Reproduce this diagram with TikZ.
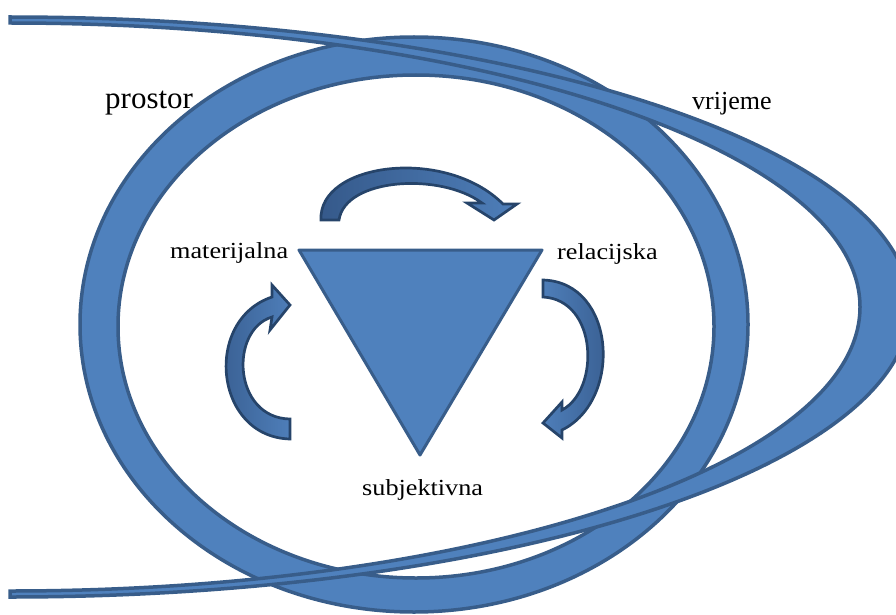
\documentclass[tikz,border=0pt]{standalone}
\usepackage{fontspec}
\setmainfont{Liberation Serif}
\newfontfamily\timesfont{Liberation Serif}
\newfontfamily\labfont[FakeStretch=1.14]{Liberation Serif}
\definecolor{fillblue}{HTML}{4F81BD}
\definecolor{edgeblue}{HTML}{385D8A}
\definecolor{arrowlight}{HTML}{4E7EB9}
\definecolor{arrowdark}{HTML}{35598A}
\definecolor{arrowedge}{HTML}{26446A}
\begin{document}
\begin{tikzpicture}[x=1pt,y=-1pt,
  band/.style={fill=fillblue, draw=edgeblue, line width=3.5pt, even odd rule},
  tri/.style={fill=fillblue, draw=edgeblue, line width=3pt, line join=round},
  curlarrow/.style={draw=arrowedge, line width=2.7pt, line join=miter},
  biglabel/.style={font=\timesfont\fontsize{31}{31}\selectfont, anchor=base west, inner sep=0pt},
  midlabel/.style={font=\timesfont\fontsize{26}{26}\selectfont, anchor=base west, inner sep=0pt},
  smalllabel/.style={font=\labfont\fontsize{23}{23}\selectfont, anchor=base west, inner sep=0pt}]
\useasboundingbox (0,0) rectangle (896,615);
\clip (0,0) rectangle (896,615);
% prostor ring
\path[band] (414,324.5) ellipse [x radius=334, y radius=287.5]
            (416,326.5) ellipse [x radius=298, y radius=251.5];
% vrijeme crescent
\path[band] (10,17) arc[start angle=-90, end angle=90, x radius=900, y radius=290]
  -- (10,591) arc[start angle=90, end angle=-90, x radius=850, y radius=284] -- cycle;
% triangle
\coordinate (tl) at (299,250);
\coordinate (tr) at (542,250);
\coordinate (tb) at (420,455);
\path[tri] (tl) -- (tr) -- (tb) -- cycle;
% curved arrows
\path[curlarrow, left color=arrowdark, right color=arrowlight]
  (321,220) .. controls (318,163) and (445,146) .. (503,204)
  -- (517,204) -- (494,220) -- (467,203) -- (482,203)
  .. controls (440,172) and (345,178) .. (339,220) -- cycle;
\path[curlarrow, left color=arrowdark, right color=arrowlight]
  (290,439) .. controls (214,437) and (203,320) .. (272,297)
  -- (272,285) -- (290,305) -- (270,330) -- (272,317)
  .. controls (229,330) and (233,418) .. (290,419) -- cycle;
\path[curlarrow, left color=arrowlight, right color=arrowdark]
  (543,280) .. controls (616,282) and (623,400) .. (562,430)
  -- (562,438) -- (543,423) -- (562,402) -- (562,410)
  .. controls (600,390) and (598,300) .. (543,297) -- cycle;
% labels
\node[biglabel] (prostor) at (105,109) {prostor};
\node[midlabel] (vrijeme) at (692,110) {vrijeme};
\node[smalllabel] (mat) at (170,258) {materijalna};
\node[smalllabel] (rel) at (557,259) {relacijska};
\node[smalllabel] (sub) at (362,495) {subjektivna};
\end{tikzpicture}
\end{document}
